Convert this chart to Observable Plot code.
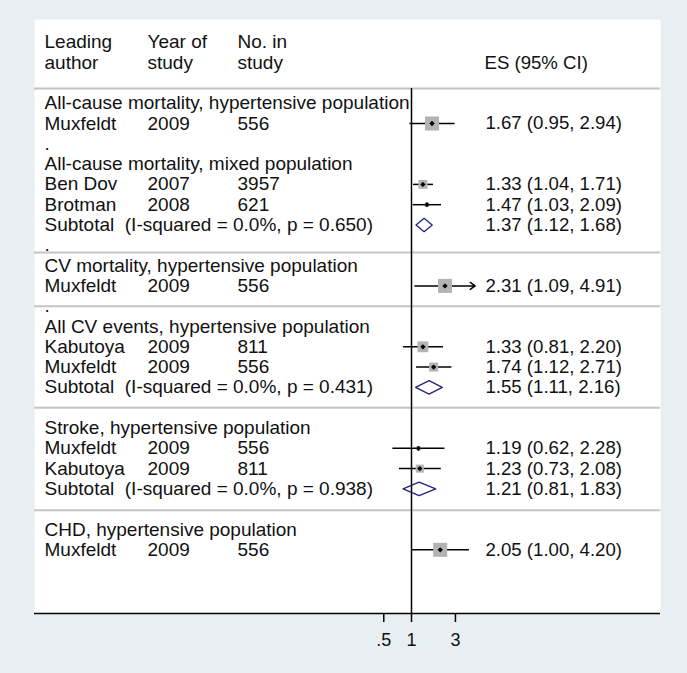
<!DOCTYPE html>
<html><head><meta charset="utf-8">
<script src="https://cdn.jsdelivr.net/npm/d3@7"></script>
<script src="https://cdn.jsdelivr.net/npm/@observablehq/plot@0.6"></script>
<style>
html,body{margin:0;padding:0;background:#e8eff2;}
svg text{white-space:pre;}
</style></head><body><div id="chart"></div>
<script>
// ---- data ----
const headerTop = ["Leading", "Year of", "No. in"];
const headerBottom = ["author", "study", "study"];
const esHeader = "ES (95% CI)";

const groupRows = [0, 3, 8, 11, 16, 21];
const groupLabels = [
  "All-cause mortality, hypertensive population",
  "All-cause mortality, mixed population",
  "CV mortality, hypertensive population",
  "All CV events, hypertensive population",
  "Stroke, hypertensive population",
  "CHD, hypertensive population"
];

const studyRows = [1, 4, 5, 9, 12, 13, 17, 18, 22];
const studyAuthors = ["Muxfeldt", "Ben Dov", "Brotman", "Muxfeldt", "Kabutoya", "Muxfeldt", "Muxfeldt", "Kabutoya", "Muxfeldt"];
const studyYears = [2009, 2007, 2008, 2009, 2009, 2009, 2009, 2009, 2009];
const studyN = [556, 3957, 621, 556, 811, 556, 556, 811, 556];
const studyES = [1.67, 1.33, 1.47, 2.31, 1.33, 1.74, 1.19, 1.23, 2.05];
const studyLo = [0.95, 1.04, 1.03, 1.09, 0.81, 1.12, 0.62, 0.73, 1.00];
const studyHi = [2.94, 1.71, 2.09, 4.91, 2.20, 2.71, 2.28, 2.08, 4.20];
const studyWeight = [100, 41, 10, 100, 60, 41, 10, 33, 100];

const subRows = [6, 14, 19];
const subLabels = [
  "Subtotal  (I-squared = 0.0%, p = 0.650)",
  "Subtotal  (I-squared = 0.0%, p = 0.431)",
  "Subtotal  (I-squared = 0.0%, p = 0.938)"
];
const subES = [1.37, 1.55, 1.21];
const subLo = [1.12, 1.11, 0.81];
const subHi = [1.68, 2.16, 1.83];

const blankRows = [2, 7, 10];
const separatorRows = [-0.72, 7.35, 10, 15, 20.05];

const tickValues = [0.5, 1, 3];
const tickLabels = [".5", "1", "3"];

// ---- layout config ----
const rowTop = -4.123, rowBottom = 25.138;
const tickRows = 9 / 20.3;
const xClip = 4.5;
const colOffsets = [10, 113, 203];
const esOffset = 451;
const FONT = "'Liberation Sans', Arial, sans-serif";
const FS = 19;
const FS_CI = 18.6;

const fmt = v => v.toFixed(2);
const studies = studyRows.map((row, i) => ({
  row, author: studyAuthors[i], year: String(studyYears[i]), n: String(studyN[i]),
  es: studyES[i], lo: studyLo[i], hi: studyHi[i], w: studyWeight[i],
  ci: `${fmt(studyES[i])} (${fmt(studyLo[i])}, ${fmt(studyHi[i])})`
}));
const subs = subRows.map((row, i) => ({
  row, label: subLabels[i], es: subES[i], lo: subLo[i], hi: subHi[i],
  ci: `${fmt(subES[i])} (${fmt(subLo[i])}, ${fmt(subHi[i])})`
}));
const halfH = 0.33;
const diamondPts = subs.flatMap((d, k) => [
  {k, x: d.lo, y: d.row}, {k, x: d.es, y: d.row - halfH},
  {k, x: d.hi, y: d.row}, {k, x: d.es, y: d.row + halfH}, {k, x: d.lo, y: d.row}
]);
const groups = groupRows.map((row, i) => ({row, label: groupLabels[i]}));
const blanks = blankRows.map(row => ({row, label: "."}));
const ticks = tickValues.map((v, i) => ({v, label: tickLabels[i], y1: rowBottom, y2: rowBottom + tickRows}));

const txt = (data, field, dx, fs = FS) => Plot.text(data, {
  y: "row", text: field, frameAnchor: "left", textAnchor: "start", dx,
  fontSize: fs, fill: "#111"
});

const headerMarks = [];
headerTop.forEach((t, j) => headerMarks.push(txt([{row: -3, t}], "t", colOffsets[j])));
headerBottom.forEach((t, j) => headerMarks.push(txt([{row: -2, t}], "t", colOffsets[j])));
headerMarks.push(txt([{row: -2, t: esHeader}], "t", esOffset - 1, FS_CI));

const chart = Plot.plot({
  width: 687, height: 673,
  marginTop: 19, marginRight: 27, marginBottom: 60, marginLeft: 34,
  style: {background: "#e8eff2", fontFamily: FONT, fontSize: FS + "px", color: "black"},
  x: {type: "log", domain: [Math.exp(-9.425), Math.exp(6.225)], range: [34, 660], axis: null},
  y: {type: "linear", domain: [rowTop, rowBottom], range: [19, 613], axis: null},
  r: {type: "sqrt", domain: [0, 100], range: [0, 7.9]},
  marks: [
    Plot.frame({fill: "white", stroke: "none"}),
    Plot.ruleY(separatorRows, {stroke: "#c4c4c4", strokeWidth: 2}),
    Plot.ruleX([{x: 1, y1: separatorRows[0], y2: rowBottom}], {x: "x", y1: "y1", y2: "y2", stroke: "black", strokeWidth: 1.5}),
    Plot.link(studies.filter(d => d.hi <= xClip), {x1: "lo", x2: "hi", y1: "row", y2: "row", stroke: "black", strokeWidth: 1.5}),
    Plot.arrow(studies.filter(d => d.hi > xClip), {x1: "lo", x2: "hi", y1: "row", y2: "row", stroke: "black", strokeWidth: 1.5, headLength: 6, headAngle: 70}),
    Plot.dot(studies, {x: "es", y: "row", r: "w", symbol: "square", fill: "#b3b3b3", stroke: "none"}),
    Plot.dot(studies, {x: "es", y: "row", r: 2.4, symbol: "diamond2", fill: "black", stroke: "none"}),
    Plot.line(diamondPts, {x: "x", y: "y", z: "k", stroke: "#23237a", strokeWidth: 1.3, curve: "linear"}),
    ...headerMarks,
    txt(groups, "label", colOffsets[0]),
    txt(blanks, "label", colOffsets[0]),
    txt(studies, "author", colOffsets[0]),
    txt(studies, "year", colOffsets[1]),
    txt(studies, "n", colOffsets[2]),
    txt(studies, "ci", esOffset, FS_CI),
    txt(subs, "label", colOffsets[0]),
    txt(subs, "ci", esOffset, FS_CI),
    Plot.ruleY([rowBottom], {stroke: "black", strokeWidth: 1.5}),
    Plot.ruleX(ticks, {x: "v", y1: "y1", y2: "y2", stroke: "black", strokeWidth: 1.5}),
    Plot.text(ticks, {x: "v", text: "label", frameAnchor: "bottom", lineAnchor: "top", dy: 20, fontSize: 18, fill: "#111"})
  ]
});
document.getElementById("chart").appendChild(chart);
</script></body></html>
